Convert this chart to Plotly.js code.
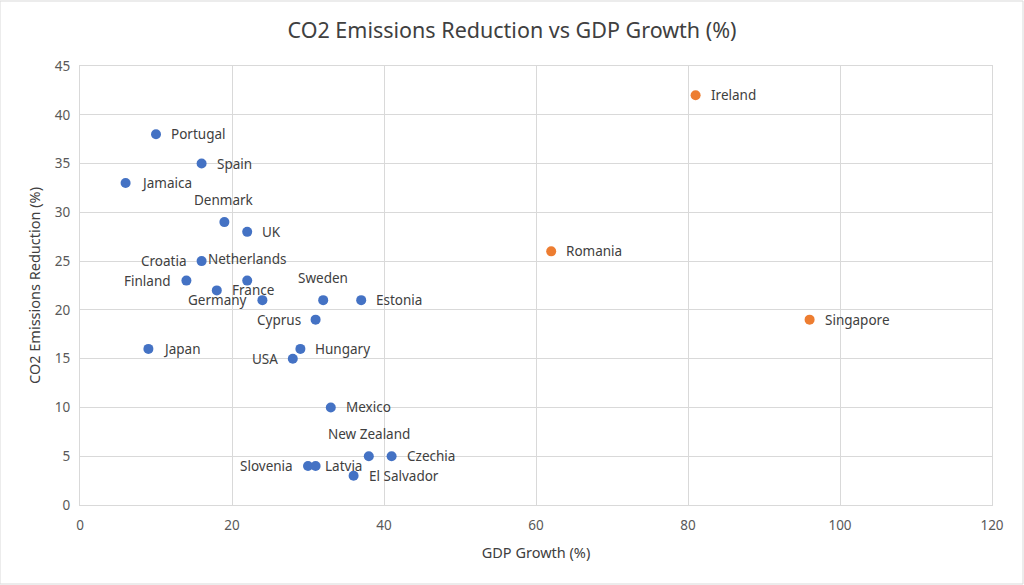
<!DOCTYPE html>
<html>
<head>
<meta charset="utf-8">
<script src="https://cdn.plot.ly/plotly-3.0.1.min.js"></script>
<style>html,body{margin:0;padding:0;background:#fff;}#chart{width:1024px;height:585px;}</style>
</head>
<body>
<div id="chart"></div>
<script>
// Data
const countries = ["Portugal","Spain","Jamaica","Denmark","UK","Croatia","Netherlands","Finland","France","Germany","Sweden","Estonia","Cyprus","Japan","Hungary","USA","Mexico","New Zealand","Czechia","Slovenia","Latvia","El Salvador"];
const gdpGrowth = [10,16,6,19,22,16,22,14,18,24,32,37,31,9,29,28,33,38,41,30,31,36];
const co2Reduction = [38,35,33,29,28,25,23,23,22,21,21,21,19,16,16,15,10,5,5,4,4,3];

const outlierCountries = ["Ireland","Romania","Singapore"];
const outlierGdpGrowth = [81,62,96];
const outlierCo2Reduction = [42,26,19];

const xTicks = [0,20,40,60,80,100,120];
const yTicks = [0,5,10,15,20,25,30,35,40,45];

// Label placement (style only)
const labelPlacement = {
  "Denmark":"top","Netherlands":"top","Sweden":"top","New Zealand":"top",
  "Croatia":"left","Finland":"left","Germany":"left","Cyprus":"left",
  "USA":"left","Slovenia":"left"
};
const labelNudge = {"Latvia":-6};

const labelFont = {family:"Noto Sans, sans-serif", size:13.5, color:"#404040"};

function makeLabels(names, xs, ys) {
  return names.map((n, i) => {
    const p = labelPlacement[n] || "right";
    const a = {x:xs[i], y:ys[i], xref:"x", yref:"y", text:n, showarrow:false, font:labelFont};
    if (p === "right") { a.xanchor = "left"; a.yanchor = "middle"; a.xshift = 13 + (labelNudge[n] || 0); }
    else if (p === "left") { a.xanchor = "right"; a.yanchor = "middle"; a.xshift = -13; }
    else { a.xanchor = "center"; a.yanchor = "bottom"; a.yshift = 11; }
    return a;
  });
}

const traces = [
  {
    type:"scatter", mode:"markers",
    x:gdpGrowth, y:co2Reduction, text:countries,
    marker:{color:"#4472C4", size:10},
    cliponaxis:false, showlegend:false
  },
  {
    type:"scatter", mode:"markers",
    x:outlierGdpGrowth, y:outlierCo2Reduction, text:outlierCountries,
    marker:{color:"#ED7D31", size:10},
    cliponaxis:false, showlegend:false
  }
];

const axisFont = {family:"Noto Sans, sans-serif", size:13.5, color:"#595959"};
const layout = {
  width:1024, height:585,
  margin:{l:80, r:32, t:66, b:80},
  paper_bgcolor:"#fff", plot_bgcolor:"#fff",
  title:{text:"CO2 Emissions Reduction vs GDP Growth (%)", font:{family:"Noto Sans, sans-serif", size:21.5, color:"#404040"}, x:0.5, xanchor:"center", y:0.948, yanchor:"middle"},
  xaxis:{
    range:[0,120], tickvals:xTicks, ticktext:xTicks.map(String),
    showgrid:true, gridcolor:"#D9D9D9", gridwidth:1,
    zeroline:false, showline:true, linecolor:"#D9D9D9", linewidth:1, mirror:true,
    ticks:"", tickfont:axisFont, ticklabelstandoff:8,
    title:{text:"GDP Growth (%)", font:{family:"Noto Sans, sans-serif", size:14.5, color:"#404040"}, standoff:14}
  },
  yaxis:{
    range:[0,45], tickvals:yTicks, ticktext:yTicks.map(String),
    showgrid:true, gridcolor:"#D9D9D9", gridwidth:1,
    zeroline:false, showline:true, linecolor:"#D9D9D9", linewidth:1, mirror:true,
    ticks:"", tickfont:axisFont, ticklabelstandoff:6,
    title:{text:"CO2 Emissions Reduction (%)", font:{family:"Noto Sans, sans-serif", size:14.5, color:"#404040"}, standoff:10}
  },
  annotations: makeLabels(countries, gdpGrowth, co2Reduction).concat(makeLabels(outlierCountries, outlierGdpGrowth, outlierCo2Reduction)),
  shapes:[{type:"rect", xref:"paper", yref:"paper", x0:-80/912, x1:1+31/912, y0:-79/439, y1:1+65/439, line:{color:"#D9D9D9", width:1}, fillcolor:"rgba(0,0,0,0)", layer:"below"}]
};

Plotly.newPlot("chart", traces, layout, {displayModeBar:false, staticPlot:true});
</script>
</body>
</html>
